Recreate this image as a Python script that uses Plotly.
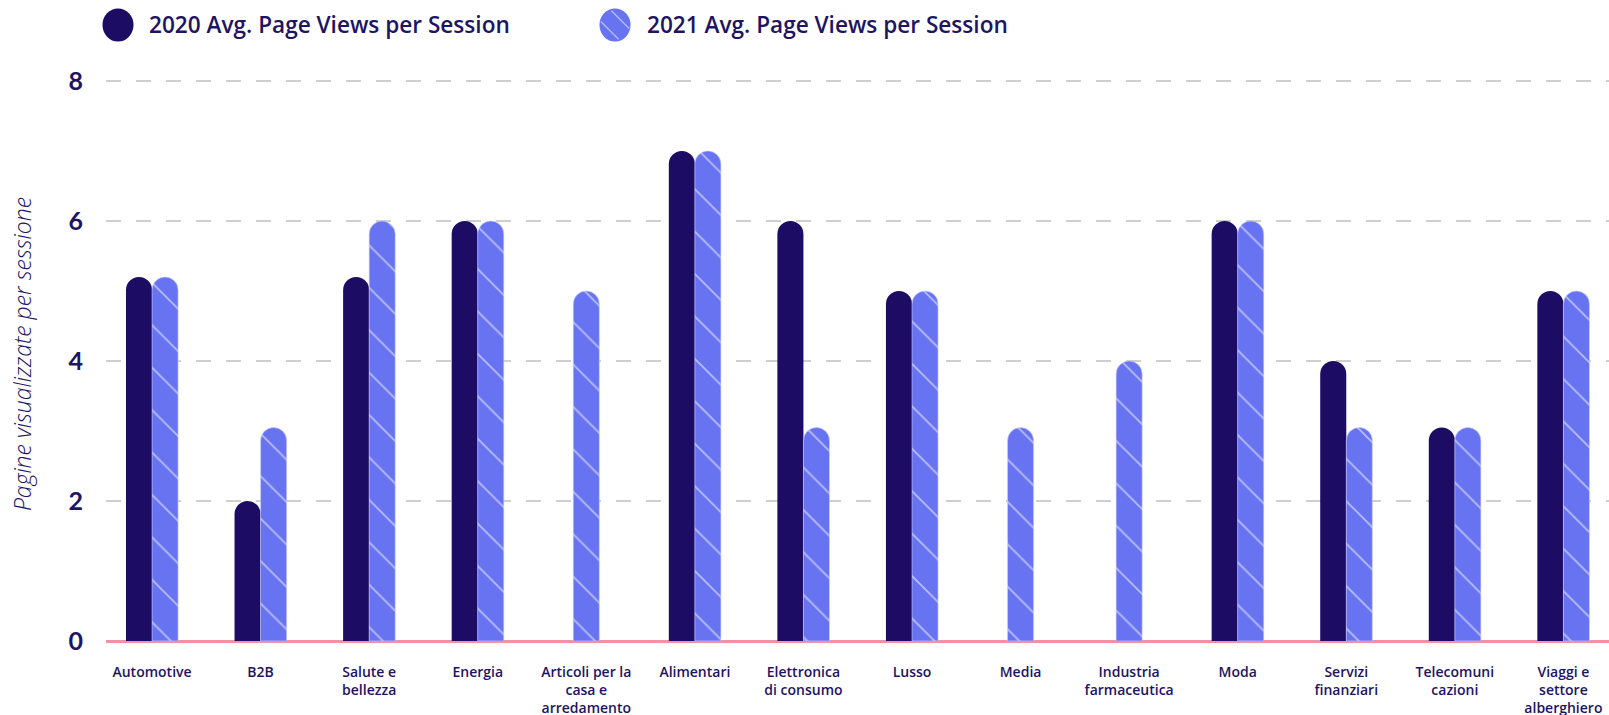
import math
import plotly.graph_objects as go

# Average page views per session by industry
categories = [
    "Automotive", "B2B", "Salute e<br>bellezza", "Energia",
    "Articoli per la<br>casa e<br>arredamento", "Alimentari",
    "Elettronica<br>di consumo", "Lusso", "Media",
    "Industria<br>farmaceutica", "Moda", "Servizi<br>finanziari",
    "Telecomuni<br>cazioni", "Viaggi e<br>settore<br>alberghiero",
]
views_2020 = [5.2, 2.0, 5.2, 6.0, None, 7.0, 6.0, 5.0, None, None, 6.0, 4.0, 3.05, 5.0]
views_2021 = [5.2, 3.05, 6.0, 6.0, 5.0, 7.0, 3.05, 5.0, 3.05, 4.0, 6.0, 3.05, 3.05, 5.0]
y_ticks = [0, 2, 4, 6, 8]

name_2020 = "2020 Avg. Page Views per Session"
name_2021 = "2021 Avg. Page Views per Session"

NAVY = "#1c0c64"
PERIWINKLE = "#6873f2"
HATCH = "#b7bdfa"
TEXT = "#1d1463"
PINK = "#f291a3"
FONT = "Open Sans"

W, H = 1609, 715
ML, MR, MT, MB = 106, 0, 67, 74

BAR_W = 0.24
# A bar whose partner is missing is centred on its category
off_2020 = [-BAR_W if b is not None else -BAR_W / 2 for b in views_2021]
off_2021 = [0.0 if a is not None else -BAR_W / 2 for a in views_2020]

fig = go.Figure()
fig.add_trace(go.Bar(
    x=categories, y=views_2020, name=name_2020,
    width=BAR_W, offset=off_2020,
    marker=dict(color=NAVY, cornerradius="50%", line=dict(width=0)),
    showlegend=False,
))
fig.add_trace(go.Bar(
    x=categories, y=views_2021, name=name_2021,
    width=BAR_W, offset=off_2021,
    marker=dict(
        color=PERIWINKLE, cornerradius="50%",
        line=dict(width=0.6, color="#c9cdfb"),
        pattern=dict(shape="\\", fgcolor=HATCH, bgcolor=PERIWINKLE,
                     size=30, solidity=0.06, fillmode="replace"),
    ),
    showlegend=False,
))

# Custom legend: oval swatches with labels above the plot
def px_x(p):
    return (p - ML) / (W - ML - MR)

def px_y(p):
    return 1 - (p - MT) / (H - MT - MB)

shapes = []
annotations = []
legend_items = [(118, 147, NAVY, name_2020, False), (615, 645, PERIWINKLE, name_2021, True)]
for cx, tx, col, label, hatched in legend_items:
    rx, ry, cy = 15.5, 16.5, 25
    shapes.append(dict(type="circle", xref="paper", yref="paper",
                       x0=px_x(cx - rx), x1=px_x(cx + rx),
                       y0=px_y(cy + ry), y1=px_y(cy - ry),
                       fillcolor=col, line=dict(width=0), layer="above"))
    if hatched:
        # two diagonal stripes running down-right across the swatch
        s = 1 / math.sqrt(2)
        for d in (-7.5, 7.5):
            half = math.sqrt(max(rx * rx - d * d, 0)) - 1
            mx, my = cx + d * s, cy - d * s
            shapes.append(dict(type="line", xref="paper", yref="paper",
                               x0=px_x(mx - half * s), y0=px_y(my - half * s),
                               x1=px_x(mx + half * s), y1=px_y(my + half * s),
                               line=dict(color=HATCH, width=1.3), layer="above"))
    annotations.append(dict(text=label, xref="paper", yref="paper",
                            x=px_x(tx), y=px_y(cy), xanchor="left", yanchor="middle",
                            showarrow=False,
                            font=dict(family=FONT, size=22.6, color=TEXT, weight=600)))

fig.update_layout(
    width=W, height=H,
    margin=dict(l=ML, r=MR, t=MT, b=MB),
    paper_bgcolor="white", plot_bgcolor="white",
    barmode="group",
    shapes=shapes, annotations=annotations,
    font=dict(family=FONT, color=TEXT),
)
fig.update_xaxes(
    type="category", range=[-0.424, 13.42], automargin=False,
    showgrid=False, showline=False, ticks="",
    tickfont=dict(family=FONT, size=14, color=TEXT, weight=600),
    ticklabelstandoff=21,
)
fig.update_yaxes(
    range=[0, 8.2], tickvals=y_ticks, automargin=False,
    showgrid=True, gridcolor="#cfcfcf", gridwidth=1.5, griddash="15px,15px",
    zeroline=True, zerolinecolor=PINK, zerolinewidth=3,
    showline=False, ticks="",
    tickfont=dict(family="Lato", size=25, color=TEXT, weight=700),
    ticklabelstandoff=22,
    title=dict(text="Pagine visualizzate per sessione", standoff=30,
               font=dict(family=FONT, size=23, color=TEXT, style="italic", weight=300)),
)

fig.write_html("out.html")
